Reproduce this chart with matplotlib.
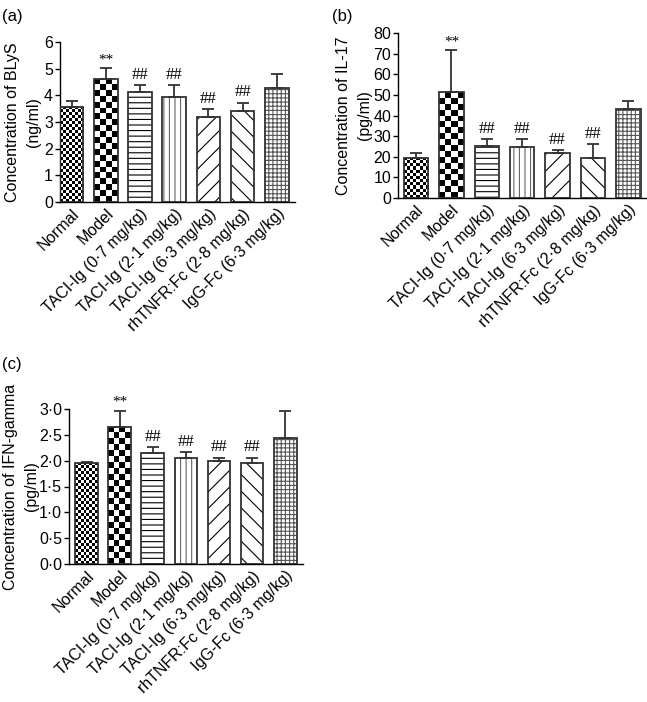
"""Cytokine concentrations per treatment group, three bar panels."""

import matplotlib

matplotlib.use("Agg")
import matplotlib.pyplot as plt
import numpy as np
from matplotlib.ticker import FuncFormatter, MultipleLocator

plt.rcParams["font.family"] = ["Liberation Sans", "DejaVu Sans"]
plt.rcParams["hatch.linewidth"] = 0.8

groups = [
    "Normal",
    "Model",
    "TACI-Ig (0·7 mg/kg)",
    "TACI-Ig (2·1 mg/kg)",
    "TACI-Ig (6·3 mg/kg)",
    "rhTNFR:Fc (2·8 mg/kg)",
    "IgG-Fc (6·3 mg/kg)",
]
marks = ["", "**", "##", "##", "##", "##", ""]

blys_mean = [3.57, 4.63, 4.12, 3.93, 3.17, 3.43, 4.28]
blys_err = [0.21, 0.39, 0.26, 0.45, 0.31, 0.30, 0.53]

il17_mean = [19.5, 51.2, 25.2, 24.7, 21.6, 19.2, 43.2]
il17_err = [2.3, 20.4, 3.2, 3.7, 1.7, 7.0, 3.7]

ifn_mean = [1.96, 2.66, 2.14, 2.06, 2.00, 1.96, 2.44]
ifn_err = [0.02, 0.31, 0.13, 0.11, 0.06, 0.10, 0.53]

# fill style per group: checker cell size (px) or hatch pattern
fills = [("checker", 3), ("checker", 6), ("hatch", "---"), ("hatch", "|||"),
         ("hatch", "//"), ("hatch", "\\\\"), ("hatch", "++++")]
hatch_colors = ["black", "black", "black", "#666666", "black", "black", "#555555"]

EDGE = "#333333"
W, H = 647, 702


def checker_fill(ax, bar, cell_px):
    x0, w, h = bar.get_x(), bar.get_width(), bar.get_height()
    p0 = ax.transData.transform((x0, 0))
    p1 = ax.transData.transform((x0 + w, h))
    ncol = max(1, round((p1[0] - p0[0]) / cell_px))
    nrow = max(1, round((p1[1] - p0[1]) / cell_px))
    grid = np.indices((nrow, ncol)).sum(axis=0) % 2
    im = ax.imshow(grid, cmap="gray", extent=(x0, x0 + w, 0, h), origin="lower",
                   interpolation="nearest", aspect="auto", zorder=2)
    im.set_clip_path(bar)


def draw_panel(fig, rect, means, errs, ylim, step, xlim, label, label_x, fmt=None):
    ax = fig.add_axes(rect)
    x = np.arange(len(groups))
    ax.set_xlim(*xlim)
    ax.set_ylim(*ylim)

    base = ax.bar(x, means, width=0.69, color="white", linewidth=0, zorder=1)
    for bar, (kind, val), hc in zip(base, fills, hatch_colors):
        if kind == "checker":
            checker_fill(ax, bar, val)
        else:
            bar.set_hatch(val)
            bar.set_edgecolor(hc)
            bar.set_linewidth(0)
    ax.bar(x, means, width=0.69, facecolor="none", edgecolor=EDGE, linewidth=1.3, zorder=3)
    ax.errorbar(x, means, yerr=[np.zeros(len(x)), errs], fmt="none", ecolor=EDGE,
                elinewidth=1.3, capsize=4, capthick=1.3, zorder=3)
    for xi, m, e, t in zip(x, means, errs, marks):
        if t:
            ax.annotate(t, (xi, m + e), xytext=(0, 1.5), textcoords="offset points",
                        ha="center", va="bottom", fontsize=12 if t == "##" else 11,
                        family=["Liberation Serif", "DejaVu Serif"])
    ax.set_xlim(*xlim)
    ax.set_ylim(*ylim)

    ax.spines["top"].set_visible(False)
    ax.spines["right"].set_visible(False)
    for s in ("left", "bottom"):
        ax.spines[s].set_linewidth(1.0)
    ax.yaxis.set_major_locator(MultipleLocator(step))
    if fmt:
        ax.yaxis.set_major_formatter(FuncFormatter(fmt))
    ax.tick_params(axis="y", length=3.5, width=1.0, labelsize=11.5, pad=1.5)
    ax.tick_params(axis="x", length=0, pad=3)
    ax.set_xticks(x)
    ax.set_xticklabels(groups, rotation=45, ha="right", va="top",
                       rotation_mode="anchor", fontsize=11.5)
    ax.set_ylabel(label, fontsize=11.5, linespacing=1.5)
    ax.yaxis.set_label_coords(label_x, 0.5)
    return ax


fig = plt.figure(figsize=(W / 100, H / 100), dpi=100)

draw_panel(fig, [60 / W, 1 - 202 / H, 235 / W, 160 / H], blys_mean, blys_err,
           (0, 6), 1, (-0.34, 6.53), "Concentration of BLyS\n(ng/ml)", -0.08)
draw_panel(fig, [398 / W, 1 - 198 / H, 248 / W, 165 / H], il17_mean, il17_err,
           (0, 80), 10, (-0.51, 6.5), "Concentration of IL-17\n(pg/ml)", -0.105)
draw_panel(fig, [69 / W, 1 - 564 / H, 234 / W, 155 / H], ifn_mean, ifn_err,
           (0, 3), 0.5, (-0.535, 6.54), "Concentration of IFN-gamma\n(pg/ml)", -0.13,
           fmt=lambda v, p: f"{v:.1f}".replace(".", "·"))

fig.text(2 / W, 1 - 17 / H, "(a)", fontsize=12, va="center")
fig.text(332 / W, 1 - 17 / H, "(b)", fontsize=12, va="center")
fig.text(2 / W, 1 - 364 / H, "(c)", fontsize=12, va="center")

fig.savefig("out.png", dpi=100)
plt.close(fig)
